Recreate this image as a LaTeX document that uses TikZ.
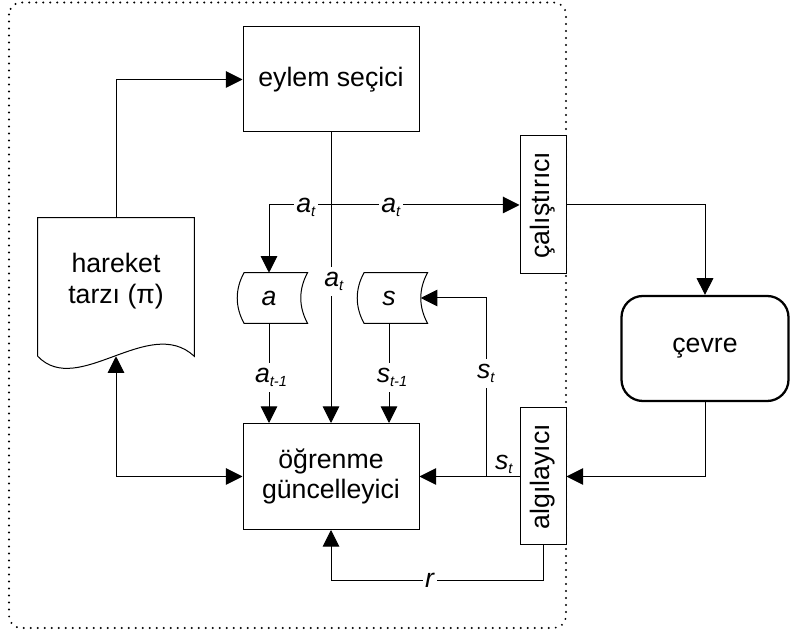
\documentclass[tikz,border=0pt]{standalone}
\usepackage{fontspec}
\setmainfont{Liberation Sans}
\usetikzlibrary{arrows.meta,calc}

% italic symbol with a lowered, smaller italic index
\newcommand\sublab[2]{\textit{#1}\raisebox{-3pt}{\fontsize{11}{11}\selectfont\textit{#2}}}

% memory (stored data) outline: curved left and right sides
\newcommand\storedshape[1]{%
  \draw[link]
    ($(#1.north west)+(6.75,0)$) -- ($(#1.north east)+(6.75,0)$)
    .. controls +(-9,16.7) and +(-9,-16.7) .. ($(#1.south east)+(6.75,0)$)
    -- ($(#1.south west)+(6.75,0)$)
    .. controls +(-9,-16.7) and +(-9,16.7) .. ($(#1.north west)+(6.75,0)$)
    -- cycle;}

\begin{document}
\begin{tikzpicture}[x=0.75pt, y=-0.75pt,
  font=\fontsize{20}{23}\selectfont,
  link/.style={line width=0.75pt},
  box/.style={draw, line width=0.75pt, fill=white, inner sep=0pt, align=center},
  tip/.tip={Triangle[length=12.5pt,width=12.5pt]},
  arr/.style={link, -tip},
  lab/.style={fill=white, inner xsep=1.5pt, inner ysep=4pt, anchor=base},
  frame/.style={line width=1.6pt, dash pattern=on 0pt off 5.25pt, line cap=round, rounded corners=9pt}]

\useasboundingbox (0,0) rectangle (790,634);

% agent boundary
\draw[frame] (9,2.5) rectangle (566,628);

% blocks
\node[box, minimum width=132pt, minimum height=78.75pt] (sel) at (331,79.5) {eylem seçici};
\node[box, minimum width=132pt, minimum height=79.5pt] (learn) at (331,476.5) {öğrenme\\güncelleyici};
\node[box, minimum width=34.5pt, minimum height=103.5pt] (cal) at (543,205) {\rotatebox{90}{çalıştırıcı}};
\node[box, minimum width=34.5pt, minimum height=102.75pt] (alg) at (543,476.5) {\rotatebox{90}{algılayıcı}};
\node[box, rounded corners=16pt, line width=1.7pt, minimum width=125.25pt, minimum height=78.75pt] (env) at (705,348.5) {çevre};

% policy document
\node[minimum width=117pt, minimum height=103.5pt, inner sep=0pt] (doc) at (116,287) {};
\draw[link, fill=white] (doc.south west) -- (doc.north west) -- (doc.north east) -- (doc.south east)
  .. controls +(-45,-42) and +(40,42) .. (doc.south west) -- cycle;
\node[align=center] (doctext) at (116,281) {hareket\\tarzı (π)};

% memories
\node[minimum width=47.25pt, minimum height=37.5pt, inner sep=0pt] (amem) at (269,298) {\textit{a}};
\node[minimum width=47.25pt, minimum height=37.5pt, inner sep=0pt] (smem) at (389,298) {\textit{s}};
\storedshape{amem}
\storedshape{smem}

% connectors
\draw[arr] (doc.north) |- (sel.west);
\draw[arr] (sel.south) -- (learn.north);
\coordinate (split) at (amem.north |- cal.west);
\draw[arr] (split) -- (cal.west);
\draw[arr] (split) -- (amem.north);
\draw[arr] (amem.south) -- (amem.south |- learn.north);
\draw[arr] (smem.south) -- (smem.south |- learn.north);
\draw[arr] (cal.east) -| (env.north);
\draw[arr] (env.south) |- (alg.east);
\draw[arr] (alg.west) -- (learn.east);
\coordinate (branch) at (486,476.5);
\draw[arr] (branch) |- (smem.east);
\draw[arr] (alg.south) -- ++(0,35) -| (learn.south);
\draw[link, tip-tip] (doc.south) |- (learn.west);

% signal labels
\node[lab] (at1) at (306,213) {\sublab{a}{t}};
\node[lab] (at2) at (391,213) {\sublab{a}{t}};
\node[lab] (at3) at (334,287) {\sublab{a}{t}};
\node[lab] (atm) at (271,383) {\sublab{a}{t-1}};
\node[lab] (stm) at (392,383) {\sublab{s}{t-1}};
\node[lab] (st1) at (486,379) {\sublab{s}{t}};
\node[anchor=base, inner sep=1pt] (st2) at (504,470) {\sublab{s}{t}};
\node[lab] (rw) at (430,588) {\textit{r}};
\end{tikzpicture}
\end{document}
